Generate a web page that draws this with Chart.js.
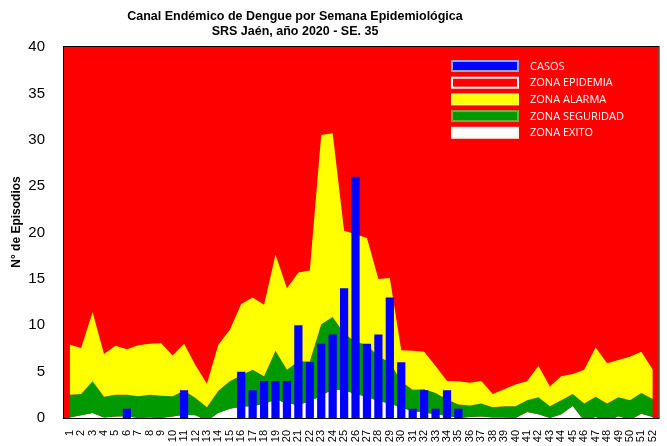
<!DOCTYPE html>
<html>
<head>
<meta charset="utf-8">
<script src="https://cdn.jsdelivr.net/npm/chart.js@4.4.1/dist/chart.umd.min.js"></script>
<style>
  html, body { margin: 0; padding: 0; overflow: hidden; background: #fff; }
  canvas { display: block; }
</style>
</head>
<body>
<canvas id="canal" width="670" height="446"></canvas>
<script>
// semanas epidemiologicas
const semanas = ['1','2','3','4','5','6','7','8','9','10','11','12','13','14','15','16','17','18','19','20',
  '21','22','23','24','25','26','27','28','29','30','31','32','33','34','35','36','37','38','39','40',
  '41','42','43','44','45','46','47','48','49','50','51','52'];

// casos 2020 hasta la SE 35
const casos = [0,0,0,0,0,1,0,0,0,0,3,0,0,0,0,5,3,4,4,4,
  10,6,8,9,14,26,8,9,13,6,1,3,1,3,1,null,null,null,null,null,
  null,null,null,null,null,null,null,null,null,null,null,null];

// limite superior de cada zona (Q1, mediana, Q3)
const zonaExito = [0.05,0.3,0.55,0.05,0.15,0.2,0,0.05,0,0.15,0.35,0.3,-0.3,0.55,1.0,1.2,1.3,1.5,2.0,1.6,
  1.4,1.8,2.4,3.1,3.0,2.6,2.3,1.8,1.6,1.1,0.75,0.6,0.4,0.25,0,0.1,0.15,0.05,0.05,0,
  0.65,0.4,0,0.4,1.3,-0.3,0.1,-0.35,0.2,-0.2,0.45,0.1];
const zonaSeguridad = [2.5,2.6,3.95,2.3,2.5,2.5,2.35,2.5,2.4,2.35,2.95,2.15,1.15,2.95,3.95,4.6,5.2,4.5,7.25,5.2,
  6.1,6.1,10.1,10.9,9.1,8.2,7.9,6.6,6.0,3.9,3.05,3.1,2.7,2.0,1.45,1.35,1.56,1.17,1.28,1.28,
  1.92,2.24,1.28,1.92,2.6,1.56,2.28,1.56,2.24,1.92,2.7,2.06];
const zonaAlarma = [7.9,7.55,11.4,6.9,7.8,7.4,7.85,8.0,8.05,6.75,8.0,5.7,3.7,7.9,9.5,12.3,13.0,12.2,17.6,14.0,
  15.7,15.9,30.5,30.7,20.2,19.8,19.4,15.0,15.1,7.3,7.25,7.15,5.6,4.0,3.95,3.8,4.0,2.6,3.1,3.6,
  3.95,5.6,3.4,4.5,4.75,5.2,7.6,5.9,6.25,6.6,7.15,5.2];

const titulo = ['Canal Endémico de Dengue por Semana Epidemiológica', 'SRS Jaén, año 2020 - SE. 35'];
const tituloEje = 'N° de Episodios';

const canalPlugin = {
  id: 'canal',
  beforeDraw(chart) {
    const ctx = chart.ctx, a = chart.chartArea;
    ctx.save();
    ctx.fillStyle = '#ff0000';   // zona epidemia = fondo del area
    ctx.fillRect(a.left, a.top, a.right - a.left, a.bottom - a.top);
    ctx.restore();
  },
  afterDraw(chart) {
    const ctx = chart.ctx, a = chart.chartArea;
    ctx.save();
    ctx.strokeStyle = '#000';
    ctx.lineWidth = 1;
    ctx.strokeRect(a.left - 0.5, a.top - 0.5, a.right - a.left + 1, a.bottom - a.top + 1);

    ctx.fillStyle = '#000';
    ctx.textAlign = 'center';
    ctx.textBaseline = 'middle';
    ctx.font = 'bold 12.5px "Liberation Sans", Arial, sans-serif';
    ctx.fillText(titulo[0], 295, 17);
    ctx.fillText(titulo[1], 295, 32);

    ctx.save();
    ctx.translate(17, 222);
    ctx.rotate(-Math.PI / 2);
    ctx.font = 'bold 12px "Liberation Sans", Arial, sans-serif';
    ctx.fillText(tituloEje, 0, 0);
    ctx.restore();

    // leyenda
    ctx.textAlign = 'left';
    ctx.font = '11px "Open Sans", sans-serif';
    chart.data.datasets.forEach((ds, i) => {
      const y = 61 + i * 16.7;
      ctx.fillStyle = ds.backgroundColor;
      ctx.fillRect(452, y, 66, 10);
      ctx.strokeStyle = ds.borderColor;
      ctx.lineWidth = 2;
      ctx.strokeRect(452, y, 66, 10);
      ctx.fillStyle = '#fff';
      ctx.fillText(ds.label, 530, y + 5.5);
    });
    ctx.restore();
  }
};

const lineaZona = { type: 'line', pointRadius: 0, borderWidth: 0, tension: 0 };

new Chart(document.getElementById('canal').getContext('2d'), {
  data: {
    labels: semanas,
    datasets: [
      { type: 'bar', label: 'CASOS', data: casos, backgroundColor: '#0000ff', borderColor: '#8faadc',
        borderWidth: 0, categoryPercentage: 0.8, barPercentage: 0.9 },
      { ...lineaZona, label: 'ZONA EPIDEMIA', data: [], backgroundColor: '#ff0000', borderColor: '#ffffff', fill: false },
      { ...lineaZona, label: 'ZONA ALARMA', data: zonaAlarma, backgroundColor: '#ffff00', borderColor: '#ffff40', fill: 3 },
      { ...lineaZona, label: 'ZONA SEGURIDAD', data: zonaSeguridad, backgroundColor: '#009900', borderColor: '#70b040', fill: 4 },
      { ...lineaZona, label: 'ZONA EXITO', data: zonaExito, backgroundColor: '#ffffff', borderColor: '#f2f2f2', fill: 'origin' }
    ]
  },
  options: {
    responsive: false,
    animation: false,
    layout: { padding: { top: 47, right: 1, left: 0, bottom: 0 } },
    plugins: { legend: { display: false }, tooltip: { enabled: false }, title: { display: false } },
    scales: {
      x: {
        offset: true,
        grid: { display: false },
        border: { display: false },
        ticks: { color: '#000', font: { family: '"Liberation Sans", Arial', size: 11 },
          minRotation: 90, maxRotation: 90, autoSkip: false, padding: 4 },
        afterFit: s => { s.height = 24; }
      },
      y: {
        min: 0, max: 40,
        grid: { display: false, drawTicks: false },
        border: { display: false },
        ticks: { stepSize: 5, color: '#000', padding: 19, font: { family: '"Liberation Sans", Arial', size: 15 } },
        afterFit: s => { s.width = 64; }
      }
    }
  },
  plugins: [canalPlugin]
});
</script>
</body>
</html>
